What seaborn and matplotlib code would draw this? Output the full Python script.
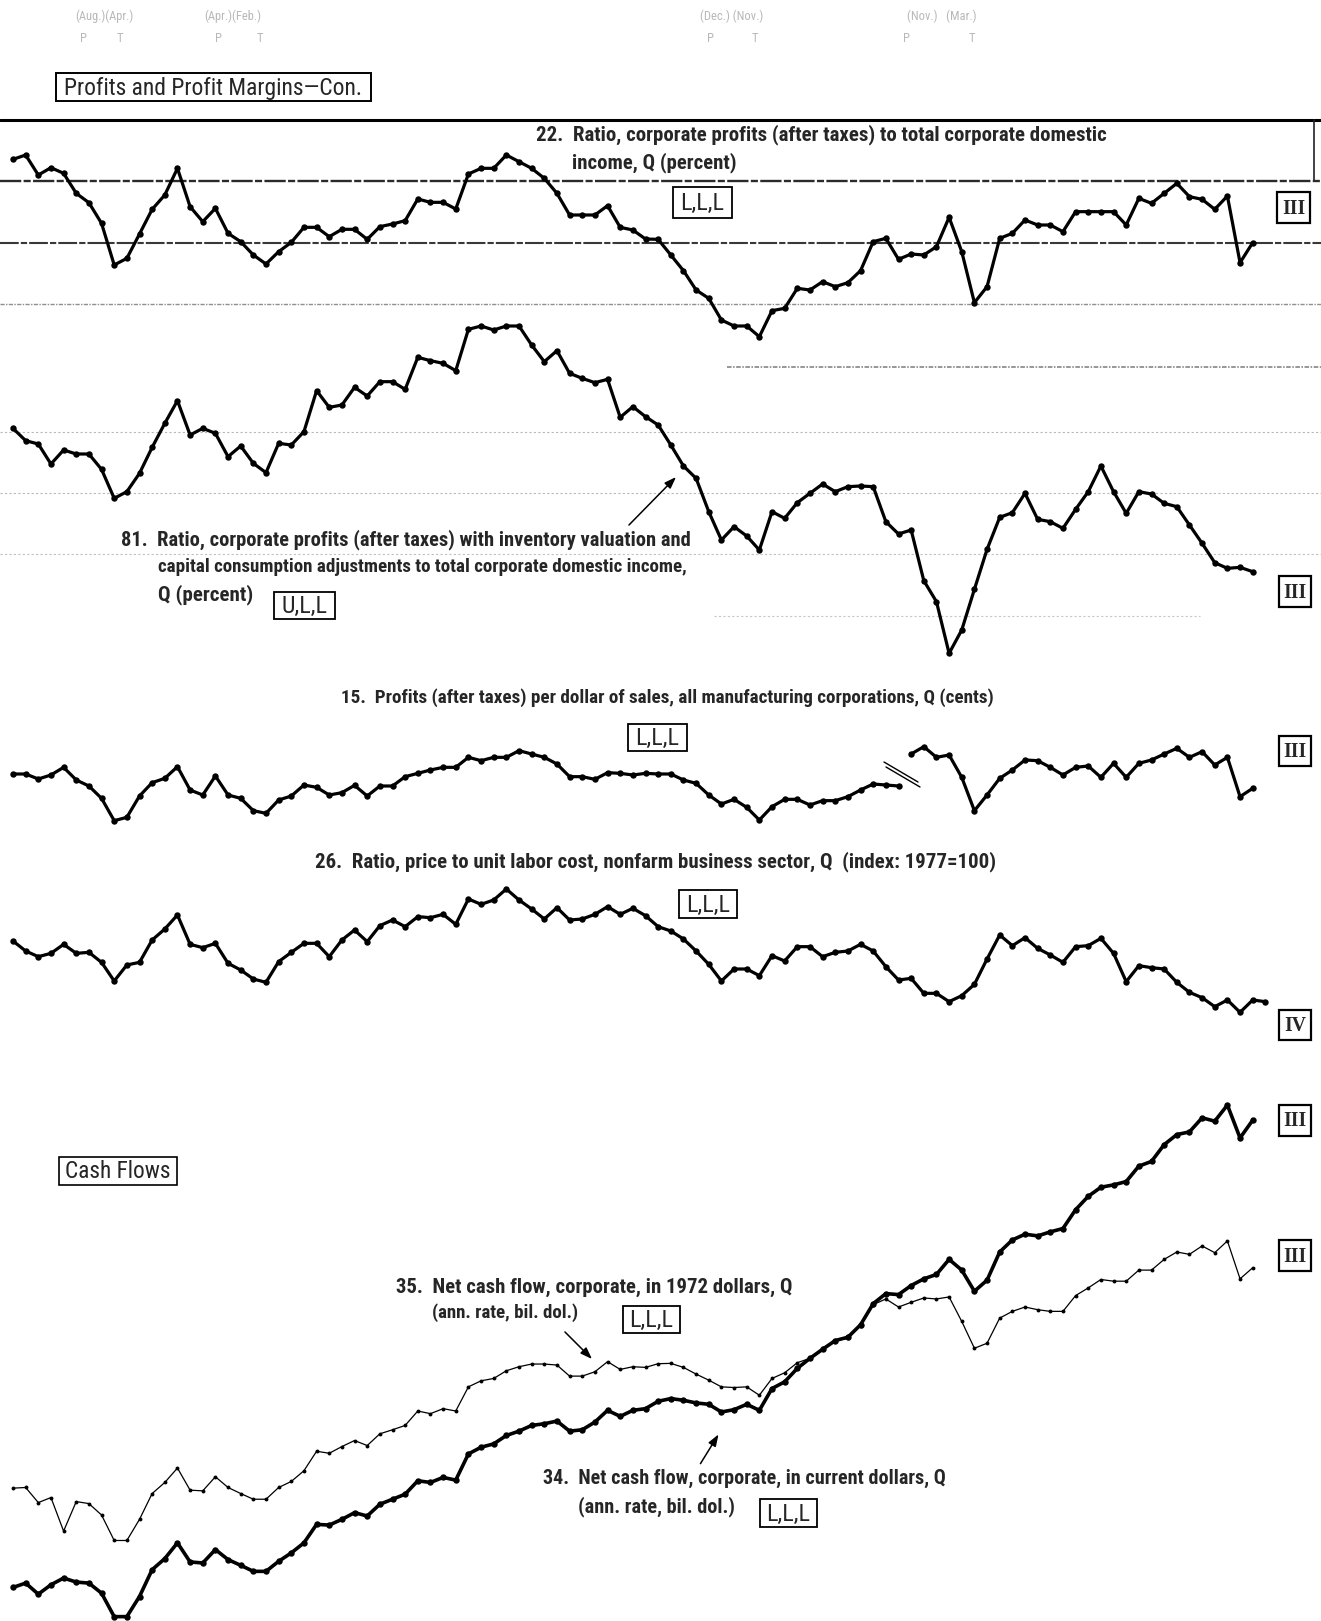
import numpy as np
import pandas as pd
import matplotlib
matplotlib.use("Agg")
import matplotlib.pyplot as plt
import seaborn as sns
from matplotlib import font_manager as fm
from matplotlib.patches import Rectangle, FancyArrowPatch

# ---------------- data (quarterly, 1959 Q1 onward; readings of vertical position on each panel, downward units) -------------
s22 = [148, 135, 195, 173, 190, 250, 278, 340, 465, 445, 372, 298, 255, 175, 290, 335, 295, 370, 395, 435,
       462, 425, 397, 352, 352, 380, 358, 358, 388, 350, 342, 332, 267, 277, 277, 297, 192, 175, 175, 135,
       155, 175, 205, 250, 315, 315, 315, 287, 352, 360, 387, 388, 435, 482, 540, 565, 630, 648, 648, 680,
       602, 595, 535, 540, 515, 530, 518, 482, 395, 385, 448, 432, 435, 410, 322, 425, 578, 530, 385, 370,
       330, 345, 345, 365, 305, 305, 305, 305, 345, 265, 280, 250, 220, 260, 268, 298, 258, 458, 398]

s81 = [355, 392, 402, 462, 420, 432, 432, 478, 565, 545, 490, 412, 340, 272, 375, 355, 370, 440, 408, 460,
       488, 400, 405, 365, 242, 292, 285, 232, 258, 215, 215, 238, 142, 152, 160, 182, 58, 48, 60, 48,
       48, 105, 155, 122, 190, 205, 218, 208, 322, 290, 320, 345, 405, 468, 505, 605, 690, 650, 678, 720,
       605, 625, 578, 550, 522, 545, 530, 528, 530, 635, 672, 660, 812, 875, 1030, 960, 838, 718, 622, 608,
       550, 628, 635, 655, 598, 545, 468, 545, 610, 545, 552, 580, 590, 645, 700, 758, 775, 772, 785]

s15_old = [282, 282, 297, 285, 262, 300, 318, 355, 422, 412, 348, 308, 295, 260, 330, 345, 288, 345, 355, 392,
           400, 360, 348, 315, 322, 345, 338, 316, 348, 318, 318, 290, 280, 270, 262, 262, 232, 242, 232, 232,
           212, 222, 232, 252, 290, 290, 298, 278, 280, 285, 280, 282, 282, 300, 310, 345, 372, 358, 382, 420,
           380, 358, 358, 375, 362, 362, 350, 330, 312, 315, 318]
s15_new = [222, 200, 232, 225, 292, 392, 345, 295, 270, 240, 242, 262, 285, 262, 258, 292, 250, 292, 250, 240,
           222, 205, 232, 215, 255, 232, 350, 325]

s26 = [288, 318, 335, 325, 298, 325, 322, 352, 408, 360, 352, 285, 252, 210, 298, 308, 295, 355, 375, 402,
       412, 350, 322, 295, 295, 335, 285, 255, 290, 242, 225, 245, 215, 218, 208, 238, 162, 178, 165, 132,
       165, 192, 222, 188, 225, 222, 208, 185, 208, 190, 212, 245, 258, 282, 318, 358, 408, 372, 372, 392,
       332, 348, 305, 305, 335, 322, 318, 298, 318, 365, 405, 400, 445, 445, 470, 452, 418, 342, 270, 302,
       278, 310, 330, 352, 305, 302, 280, 325, 410, 362, 368, 372, 412, 442, 458, 485, 465, 502, 465, 470]

s35 = [1172, 1170, 1215, 1200, 1300, 1212, 1218, 1252, 1328, 1328, 1265, 1188, 1155, 1112, 1178, 1180, 1138, 1170, 1188, 1205,
       1205, 1170, 1152, 1120, 1062, 1068, 1048, 1030, 1045, 1010, 998, 985, 942, 950, 935, 942, 870, 852, 845, 822,
       810, 802, 802, 805, 838, 838, 825, 795, 818, 810, 812, 801, 800, 812, 832, 850, 870, 872, 870, 895,
       845, 828, 798, 785, 755, 732, 725, 688, 625, 608, 632, 618, 605, 608, 602, 675, 755, 740, 665, 645,
       632, 640, 645, 645, 598, 575, 550, 555, 555, 522, 522, 490, 468, 475, 450, 470, 435, 548, 515]

s34 = [1468, 1455, 1488, 1460, 1440, 1452, 1455, 1485, 1555, 1555, 1495, 1415, 1382, 1335, 1392, 1395, 1355, 1385, 1402, 1420,
       1420, 1390, 1365, 1335, 1280, 1282, 1265, 1245, 1255, 1220, 1205, 1190, 1150, 1155, 1140, 1148, 1070, 1050, 1040, 1015,
       1002, 985, 980, 972, 1002, 998, 975, 940, 958, 940, 935, 913, 905, 910, 918, 922, 945, 938, 922, 940,
       875, 855, 815, 785, 758, 732, 722, 685, 622, 592, 595, 568, 548, 535, 490, 522, 585, 552, 468, 432,
       415, 420, 408, 398, 342, 302, 275, 268, 258, 212, 198, 148, 118, 110, 68, 78, 30, 128, 75]

START_YEAR = 1959

# ---------------- fonts ----------------
sns.set_theme(style="white")
avail = {f.name for f in fm.fontManager.ttflist}


def pick(*names):
    for n in names:
        if n in avail:
            return n
    return "DejaVu Sans"


NARROW = pick("Liberation Sans Narrow", "DejaVu Sans Condensed", "Roboto Condensed", "Liberation Sans")
SERIF = pick("Liberation Serif", "DejaVu Serif")
plt.rcParams["font.family"] = [NARROW, "DejaVu Sans"]

W, H = 1321, 1621
fig = plt.figure(figsize=(W / 100, H / 100), dpi=100)
fig.patch.set_facecolor("white")

# overlay axes in pixel units for annotations
ov = fig.add_axes([0, 0, 1, 1], zorder=0)
ov.set_xlim(0, W)
ov.set_ylim(H, 0)
ov.axis("off")
renderer = fig.canvas.get_renderer()

X0 = START_YEAR - 13 / 50.6
X1 = START_YEAR + (W - 13) / 50.6


def panel(top, height, span):
    ax = fig.add_axes([0, 1 - (top + height) / H, 1, height / H], zorder=2)
    ax.patch.set_alpha(0)
    return ax, span


def draw(axspan, vals, start=0, lw=2.3, ms=4.6):
    ax, span = axspan
    q = START_YEAR + (np.arange(len(vals)) + start) / 4.0
    df = pd.DataFrame({"quarter": q, "value": vals})
    sns.lineplot(data=df, x="quarter", y="value", ax=ax, color="black", linewidth=lw,
                 marker="o", markersize=ms, markeredgewidth=0, markerfacecolor="black",
                 estimator=None, sort=False, legend=False)
    ax.set_xlim(X0, X1)
    ax.set_ylim(span, 0)
    ax.axis("off")


# ---------------- rules (grid remnants) ----------------
ov.plot([0, W], [120, 120], color="black", lw=2.2)
ov.plot([1314, 1314], [120, 181], color="#222222", lw=1.2)
for y, c, lw, ls, xa, xb in [
    (181, "#2a2a2a", 1.7, (0, (9, 1, 3, 1)), 0, W),
    (243, "#383838", 1.5, (0, (9, 1, 3, 1)), 0, W),
    (304, "#8f8f8f", 1.0, (0, (3, 1, 1, 1)), 0, W),
    (367, "#7a7a7a", 1.1, (0, (3, 1, 1, 1)), 727, W),
    (432, "#b8b8b8", 0.8, (0, (2, 2)), 0, W),
    (493, "#b8b8b8", 0.8, (0, (2, 2)), 0, W),
    (554, "#c0c0c0", 0.8, (0, (2, 2)), 0, W),
    (616, "#c8c8c8", 0.8, (0, (2, 2)), 714, 1200),
]:
    ov.plot([xa, xb], [y, y], color=c, lw=lw, linestyle=ls)

# ---------------- series ----------------
p22 = panel(110, 235, 705)
draw(p22, s22)
p81 = panel(310, 355, 1065)
draw(p81, s81)
p15 = panel(680, 150, 450)
draw(p15, s15_old)
draw(p15, s15_new, start=len(s15_old))
p26 = panel(845, 200, 600)
draw(p26, s26)
pc = panel(1095, 526, 1568)
draw(pc, s35, lw=0.9, ms=2.8)
draw(pc, s34, lw=2.6, ms=4.6)

# break mark on series 15
ov.plot([884, 918], [762, 782], color="black", lw=1.0)
ov.plot([886, 920], [767, 787], color="black", lw=1.0)


# ---------------- text helpers ----------------
def fit(x, y, s, width, size=14, ha="left", va="center", **kw):
    t = ov.text(x, y, s, fontsize=size, ha=ha, va=va, **kw)
    w = t.get_window_extent(renderer).width
    t.set_fontsize(size * width / w)
    return t


def box(x0, y0, x1, y1, s, tw, serif=False, lw=1.1):
    ov.add_patch(Rectangle((x0, y0), x1 - x0, y1 - y0, fill=False, ec="black", lw=lw, zorder=3))
    if serif:
        fit((x0 + x1) / 2, (y0 + y1) / 2 + 1, s, tw, ha="center", family=SERIF, weight="bold")
    else:
        fit((x0 + x1) / 2, (y0 + y1) / 2 + 1, s, tw, ha="center")


def title(lines):
    for x, y, s, w in lines:
        fit(x, y, s, w, weight="bold")


# faint header
for s, x, y in [("(Aug.)(Apr.)", 104, 16), ("(Apr.)(Feb.)", 233, 16), ("(Dec.) (Nov.)", 732, 16),
                ("(Nov.)   (Mar.)", 942, 16)]:
    ov.text(x, y, s, fontsize=9, color="#b8b8b8", ha="center", va="center")
for s, x in [("P", 83), ("T", 120), ("P", 218), ("T", 260), ("P", 710), ("T", 755), ("P", 906), ("T", 972)]:
    ov.text(x, 39, s, fontsize=9, color="#b8b8b8", ha="center", va="center")

# section headers
box(56, 73, 371, 101, "Profits and Profit Margins\u2014Con.", 300, lw=1.4)
box(59, 1157, 177, 1185, "Cash Flows", 106, lw=1.2)

# series titles
title([(536, 135, "22.  Ratio, corporate profits (after taxes) to total corporate domestic", 572),
       (572, 163, "income, Q (percent)", 165)])
title([(121, 540, "81.  Ratio, corporate profits (after taxes) with inventory valuation and", 574),
       (158, 567, "capital consumption adjustments to total corporate domestic income,", 532),
       (158, 595, "Q (percent)", 95)])
title([(341, 698, "15.  Profits (after taxes) per dollar of sales, all manufacturing corporations, Q (cents)", 657)])
title([(315, 862, "26.  Ratio, price to unit labor cost, nonfarm business sector, Q  (index: 1977=100)", 685)])
title([(396, 1287, "35.  Net cash flow, corporate, in 1972 dollars, Q", 398),
       (432, 1313, "(ann. rate, bil. dol.)", 147)])
title([(543, 1478, "34.  Net cash flow, corporate, in current dollars, Q", 403),
       (578, 1507, "(ann. rate, bil. dol.)", 158)])

# timing code boxes
box(673, 187, 732, 218, "L,L,L", 44, lw=1.3)
box(274, 592, 335, 619, "U,L,L", 46, lw=1.3)
box(628, 724, 687, 751, "L,L,L", 44, lw=1.3)
box(679, 890, 737, 918, "L,L,L", 44, lw=1.3)
box(623, 1306, 680, 1333, "L,L,L", 44, lw=1.3)
box(760, 1499, 817, 1527, "L,L,L", 44, lw=1.3)

# latest-quarter boxes
box(1277, 192, 1310, 223, "III", 23, serif=True, lw=1.6)
box(1279, 576, 1311, 607, "III", 23, serif=True, lw=1.6)
box(1279, 736, 1311, 766, "III", 23, serif=True, lw=1.6)
box(1279, 1010, 1311, 1040, "IV", 22, serif=True, lw=1.6)
box(1279, 1105, 1311, 1136, "III", 23, serif=True, lw=1.6)
box(1279, 1240, 1311, 1271, "III", 23, serif=True, lw=1.6)

# arrows
for (xa, ya), (xb, yb) in [((627, 527), (678, 475)), ((563, 1330), (594, 1361)), ((699, 1466), (720, 1432))]:
    ov.add_patch(FancyArrowPatch((xa, ya), (xb, yb), arrowstyle="-|>,head_length=7,head_width=2.5",
                                 color="black", lw=1.1, mutation_scale=1, zorder=3))

fig.savefig("out.png", dpi=100, facecolor="white")
